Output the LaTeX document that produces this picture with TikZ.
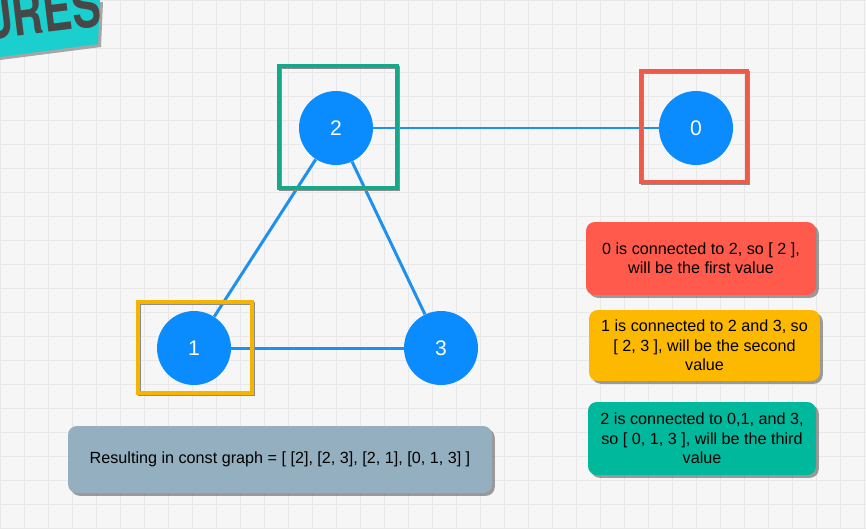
\documentclass[tikz,border=0pt]{standalone}
\usepackage{fontspec}
\setmainfont{Liberation Sans}
\newfontfamily\bannerfont{TeX Gyre Heros}[FakeStretch=0.72]
\usepackage{tikz}
\usetikzlibrary{shadows}

\definecolor{vertexblue}{HTML}{0A8CFF}
\definecolor{edgeblue}{HTML}{1E90F0}
\definecolor{notered}{HTML}{FF5A4C}
\definecolor{noteyellow}{HTML}{FDB900}
\definecolor{noteteal}{HTML}{00B89C}
\definecolor{notegray}{HTML}{93AFC0}
\definecolor{framegreen}{HTML}{17A88A}
\definecolor{framered}{HTML}{F05A48}
\definecolor{frameyellow}{HTML}{F5B400}
\definecolor{bannerteal}{HTML}{1CCFCF}
\definecolor{gridline}{HTML}{E8E8E8}

\begin{document}
\begin{tikzpicture}[
  x=0.02cm, y=-0.02cm,
  vertex/.style={circle, fill=vertexblue, text=white, minimum size=1.48cm, inner sep=0pt, font=\fontsize{12}{14}\selectfont},
  link/.style={draw=edgeblue, line width=1.7pt},
  framebox/.style={rectangle, draw=#1, line width=1.8pt, inner sep=0pt, preaction={draw=black!45, line width=1.8pt, transform canvas={xshift=0.8pt, yshift=-0.8pt}}},
  note/.style={rectangle, rounded corners=5pt, fill=#1, align=center, inner sep=0pt, drop shadow={shadow xshift=1.6pt, shadow yshift=-1.6pt, fill=black!75}, font=\fontsize{9.2}{11}\selectfont}
]
% background with light grid
\useasboundingbox (0,0) rectangle (866,528);
\fill[gray!7] (0,0) rectangle (866,528);
\foreach \gx in {0,24,...,866} \draw[gridline, line width=0.4pt] (\gx,0) -- (\gx,528);
\foreach \gy in {0,24,...,528} \draw[gridline, line width=0.4pt] (0,\gy) -- (866,\gy);

% corner banner
\begin{scope}
  \fill[black!35] (0,2) -- (103,2) -- (101,47) -- (0,60) -- cycle;
  \fill[bannerteal] (0,0) -- (100,0) -- (98,44) -- (0,57) -- cycle;
  \clip (0,0) -- (100,0) -- (98,44) -- (0,57) -- cycle;
  \node[text=black!72, rotate=7, font=\bannerfont\bfseries\fontsize{34}{34}\selectfont, anchor=base west] (banner) at (-22,41) {URES};
\end{scope}

% graph vertices
\node[vertex] (v2) at (336,128) {2};
\node[vertex] (v0) at (696,128) {0};
\node[vertex] (v1) at (194,348) {1};
\node[vertex] (v3) at (441,348) {3};

\draw[link] (v2) -- (v0);
\draw[link] (v2) -- (v1);
\draw[link] (v2) -- (v3);
\draw[link] (v1) -- (v3);

% highlight frames
\node[framebox=framegreen, minimum width=2.36cm, minimum height=2.44cm] (frame2) at (338,127) {};
\node[framebox=framered, minimum width=2.12cm, minimum height=2.22cm] (frame0) at (694,126.5) {};
\node[framebox=frameyellow, minimum width=2.28cm, minimum height=1.82cm] (frame1) at (195,347.5) {};

% explanation boxes
\node[note=notered, minimum width=4.6cm, minimum height=1.46cm] (first) at (701,258.5)
  {0 is connected to 2, so [ 2 ],\\will be the first value};
\node[note=noteyellow, minimum width=4.62cm, minimum height=1.42cm] (second) at (704.5,345.5)
  {1 is connected to 2 and 3, so\\{}[ 2, 3 ], will be the second\\value};
\node[note=noteteal, minimum width=4.56cm, minimum height=1.46cm] (third) at (702,438.5)
  {2 is connected to 0,1, and 3,\\so [ 0, 1, 3 ], will be the third\\value};
\node[note=notegray, minimum width=8.48cm, minimum height=1.34cm] (result) at (280,459.5)
  {Resulting in const graph = [ [2], [2, 3], [2, 1], [0, 1, 3] ]};
\end{tikzpicture}
\end{document}
